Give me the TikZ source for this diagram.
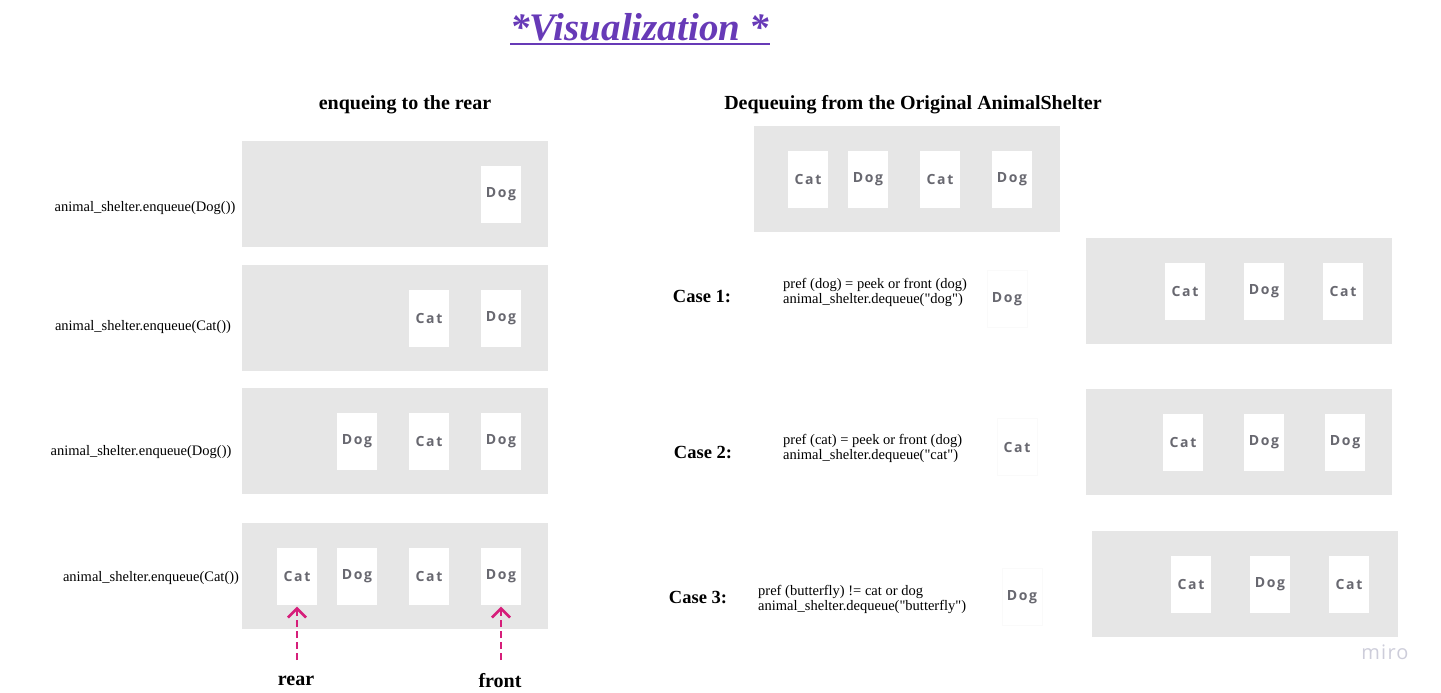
\documentclass[tikz,border=0pt]{standalone}
\usepackage{fontspec}
\setmainfont{Liberation Serif}
\newfontfamily\cardfont[LetterSpace=12]{Open Sans}
\newfontfamily\logofont[LetterSpace=6]{Open Sans}
\usepackage{xcolor}
\definecolor{titlepurple}{RGB}{103,58,183}
\definecolor{shelfgrey}{RGB}{230,230,230}
\definecolor{cardtext}{RGB}{104,104,112}
\definecolor{arrowpink}{RGB}{214,30,122}
\definecolor{mirogrey}{RGB}{205,205,218}
\usepackage{tikz}
\usetikzlibrary{arrows.meta,positioning}

\begin{document}
\begin{tikzpicture}[x=1pt,y=-1pt,
    shelf/.style={fill=shelfgrey, minimum width=306pt, minimum height=106pt, inner sep=0pt},
    card/.style={fill=white, minimum width=40pt, minimum height=57pt, inner sep=0pt,
        text=cardtext, font=\cardfont\bfseries\fontsize{14}{16}\selectfont},
    loosecard/.style={card, draw=black!2},
    code/.style={font=\fontsize{14.5}{15}\selectfont, align=left, inner sep=0pt},
    heading/.style={font=\bfseries\fontsize{20}{24}\selectfont, inner sep=0pt},
    caselabel/.style={font=\bfseries\fontsize{18.5}{20}\selectfont, inner sep=0pt},
    pointer/.style={arrowpink, line width=2.8pt, dash pattern=on 7pt off 4pt,
        -{Straight Barb[length=9pt,width=18pt,line width=2.6pt]}, shorten >=2pt}]
    \useasboundingbox (0,0) rectangle (1441,693);

    % Title
    \node[text=titlepurple, inner sep=0pt, font=\bfseries\itshape\fontsize{39}{44}\selectfont]
        (title) at (640,27) {*Visualization *};
    \draw[titlepurple, line width=1.8pt] ([yshift=-4pt]title.base west) -- ([yshift=-4pt]title.base east);

    % Enqueue side
    \node[heading] (enqhead) at (405,105) {enqueing to the rear};
    \node[shelf] (q1) at (395,194) {};
    \node[shelf] (q2) at (395,318) {};
    \node[shelf] (q3) at (395,441) {};
    \node[shelf] (q4) at (395,576) {};
    \node[card] (r1d) at (501,194) {Dog};
    \foreach \name/\xx/\kind in {c/429/Cat, d/501/Dog}
        \node[card] (r2\name) at (\xx,318) {\kind};
    \foreach \name/\xx/\kind in {b/357/Dog, c/429/Cat, d/501/Dog}
        \node[card] (r3\name) at (\xx,441) {\kind};
    \foreach \name/\xx/\kind in {a/297/Cat, b/357/Dog, c/429/Cat, d/501/Dog}
        \node[card] (r4\name) at (\xx,576) {\kind};
    \node[code] (call1) at (145,208) {animal\_shelter.enqueue(Dog())};
    \node[code] (call2) at (143,327) {animal\_shelter.enqueue(Cat())};
    \node[code] (call3) at (141,452) {animal\_shelter.enqueue(Dog())};
    \node[code] (call4) at (151,578) {animal\_shelter.enqueue(Cat())};

    % Rear and front pointers
    \node[heading] (rear) at (296,681) {rear};
    \node[heading] (front) at (500,681) {front};
    \coordinate (reartail) at (297,660);
    \coordinate (fronttail) at (501,660);
    \draw[pointer] (reartail) -- (r4a.south);
    \draw[pointer] (fronttail) -- (r4d.south);

    % Dequeue side
    \node[heading] (deqhead) at (913,105) {Dequeuing from the Original AnimalShelter};
    \node[shelf] (orig) at (907,179) {};
    \foreach \name/\xx/\kind in {a/808/Cat, b/868/Dog, c/940/Cat, d/1012/Dog}
        \node[card] (o\name) at (\xx,179) {\kind};

    % Case 1
    \node[caselabel] (case1) at (702,297) {Case 1:};
    \node[code, anchor=west] (pref1) at (783,292)
        {pref (dog) = peek or front (dog)\\animal\_shelter.dequeue(\textquotedbl dog\textquotedbl)};
    \node[loosecard] (out1) at (1007,299) {Dog};
    \node[shelf] (s1) at (1239,291) {};
    \foreach \name/\xx/\kind in {a/1185/Cat, b/1264/Dog, c/1343/Cat}
        \node[card] (s1\name) at (\xx,291) {\kind};

    % Case 2
    \node[caselabel] (case2) at (703,453) {Case 2:};
    \node[code, anchor=west] (pref2) at (783,448)
        {pref (cat) = peek or front (dog)\\animal\_shelter.dequeue(\textquotedbl cat\textquotedbl)};
    \node[loosecard] (out2) at (1017,447) {Cat};
    \node[shelf] (s2) at (1239,442) {};
    \foreach \name/\xx/\kind in {a/1183/Cat, b/1264/Dog, c/1345/Dog}
        \node[card] (s2\name) at (\xx,442) {\kind};

    % Case 3
    \node[caselabel] (case3) at (698,598) {Case 3:};
    \node[code, anchor=west] (pref3) at (758,599)
        {pref (butterfly) != cat or dog\\animal\_shelter.dequeue(\textquotedbl butterfly\textquotedbl)};
    \node[loosecard] (out3) at (1022,597) {Dog};
    \node[shelf] (s3) at (1245,584) {};
    \foreach \name/\xx/\kind in {a/1191/Cat, b/1270/Dog, c/1349/Cat}
        \node[card] (s3\name) at (\xx,584) {\kind};

    % Logo
    \node[text=mirogrey, inner sep=0pt, font=\logofont\fontsize{20}{20}\selectfont] (miro) at (1385,652) {miro};
\end{tikzpicture}
\end{document}
